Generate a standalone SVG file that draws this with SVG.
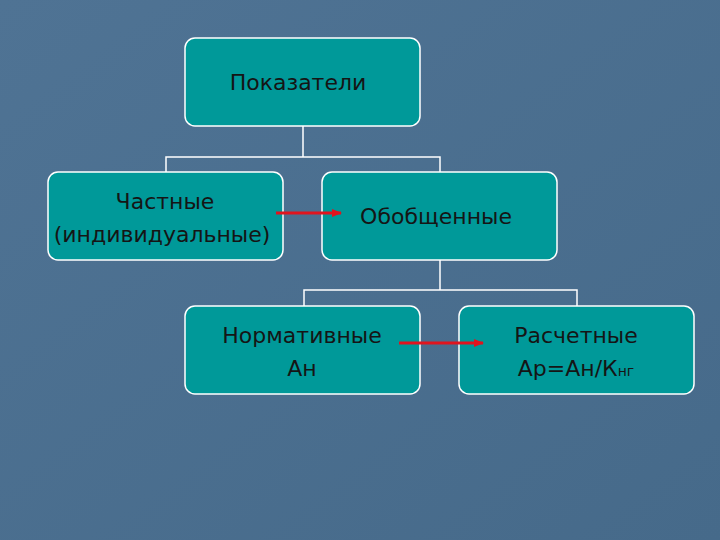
<svg xmlns="http://www.w3.org/2000/svg" width="720" height="540" viewBox="0 0 720 540">
<defs>
<linearGradient id="bg" x1="0" y1="0" x2="1" y2="1">
<stop offset="0" stop-color="#4f7394"/><stop offset="1" stop-color="#466a8a"/>
</linearGradient>
<marker id="ah" markerWidth="10" markerHeight="8" refX="9" refY="4" orient="auto" markerUnits="userSpaceOnUse">
<path d="M0,0 L10,4 L0,8 Z" fill="#e0141e"/>
</marker>
<style>
.box{fill:#009999;stroke:#ffffff;stroke-width:1.5}
.t{font-family:"DejaVu Sans",Verdana,sans-serif;font-size:22px;fill:#151515;text-anchor:middle}
.c{stroke:#ffffff;stroke-width:1.5;fill:none}
.r{stroke:#e0141e;stroke-width:3;fill:none}
</style>
</defs>
<rect width="720" height="540" fill="url(#bg)"/>
<g id="pokazateli"><rect class="box" x="185" y="38" width="235" height="88" rx="10"/><text class="t" x="298" y="90">Показатели</text></g>
<g id="chastnye"><rect class="box" x="48" y="172" width="235" height="88" rx="10"/><text class="t" x="165" y="209">Частные</text><text class="t" x="162" y="242">(индивидуальные)</text></g>
<g id="obobshchennye"><rect class="box" x="322" y="172" width="235" height="88" rx="10"/><text class="t" x="436" y="224">Обобщенные</text></g>
<g id="normativnye"><rect class="box" x="185" y="306" width="235" height="88" rx="10"/><text class="t" x="302" y="343">Нормативные</text><text class="t" x="302" y="376">Ан</text></g>
<g id="raschetnye"><rect class="box" x="459" y="306" width="235" height="88" rx="10"/><text class="t" x="576" y="343">Расчетные</text><text class="t" x="576" y="376">Ар=Ан/К<tspan font-size="14">нг</tspan></text></g>
<g id="connectors">
<path class="c" d="M303,126 V157 M166,172 V157 H440 V172"/>
<path class="c" d="M440,260 V290 M304,306 V290 H577 V306"/>
<path class="r" d="M276,213 H341" marker-end="url(#ah)"/>
<path class="r" d="M399,343 H483" marker-end="url(#ah)"/>
</g>
</svg>
